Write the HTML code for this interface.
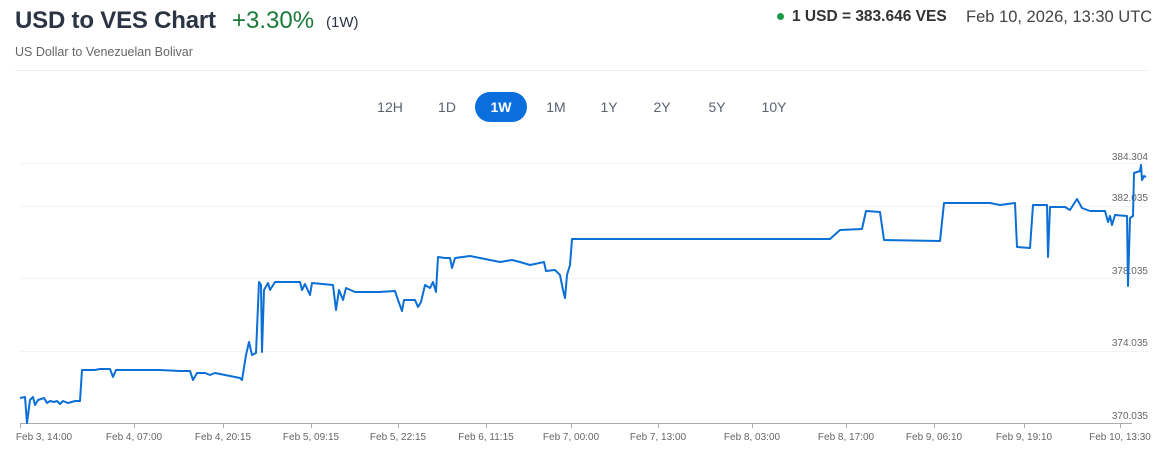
<!DOCTYPE html>
<html><head><meta charset="utf-8"><style>
body{margin:0;width:1163px;height:449px;background:#fff;font-family:"Liberation Sans",sans-serif;position:relative;overflow:hidden}
.a{position:absolute;white-space:nowrap}
.tab{position:absolute;top:92px;height:30px;line-height:30px;font-size:14px;color:#5a6270;text-align:center;width:50px}
</style></head><body>
<div class="a" style="left:15px;top:7px;font-size:24px;font-weight:bold;color:#2b3445;letter-spacing:-0.2px">USD to VES Chart</div>
<div class="a" style="left:232px;top:7px;font-size:24px;color:#1a7a3a">+3.30%</div>
<div class="a" style="left:326px;top:14px;font-size:15px;color:#2b3445">(1W)</div>
<div class="a" style="left:15px;top:45px;font-size:12.5px;color:#666">US Dollar to Venezuelan Bolivar</div>
<div class="a" style="left:777px;top:13px;width:7px;height:7px;border-radius:50%;background:#1a9a4a"></div>
<div class="a" style="left:792px;top:8px;font-size:15.5px;font-weight:bold;color:#333">1 USD = 383.646 VES</div>
<div class="a" style="left:966px;top:8px;font-size:16.5px;color:#444">Feb 10, 2026, 13:30 UTC</div>
<div class="a" style="left:15px;top:70px;width:1133px;height:1px;background:#eee"></div>
<div class="tab" style="left:365px">12H</div>
<div class="tab" style="left:422px">1D</div>
<div class="tab" style="left:475px;width:52px;background:#0a6fdc;color:#fff;border-radius:15px;font-weight:bold">1W</div>
<div class="tab" style="left:531px">1M</div>
<div class="tab" style="left:584px">1Y</div>
<div class="tab" style="left:637px">2Y</div>
<div class="tab" style="left:692px">5Y</div>
<div class="tab" style="left:749px">10Y</div>
<svg class="a" style="left:0;top:0" width="1163" height="449">
<g stroke="#f3f3f3" stroke-width="1">
<line x1="20" y1="163.5" x2="1148" y2="163.5"/><line x1="20" y1="206.5" x2="1148" y2="206.5"/>
<line x1="20" y1="278.5" x2="1148" y2="278.5"/><line x1="20" y1="351.5" x2="1148" y2="351.5"/>
</g>
<line x1="20" y1="423.5" x2="1132" y2="423.5" stroke="#aaa"/>
<g stroke="#aaa"><line x1="20.5" y1="423" x2="20.5" y2="428"/><line x1="134.5" y1="423" x2="134.5" y2="428"/><line x1="223.5" y1="423" x2="223.5" y2="428"/><line x1="311.5" y1="423" x2="311.5" y2="428"/><line x1="398.5" y1="423" x2="398.5" y2="428"/><line x1="486.5" y1="423" x2="486.5" y2="428"/><line x1="571.5" y1="423" x2="571.5" y2="428"/><line x1="658.5" y1="423" x2="658.5" y2="428"/><line x1="752.5" y1="423" x2="752.5" y2="428"/><line x1="846.5" y1="423" x2="846.5" y2="428"/><line x1="934.5" y1="423" x2="934.5" y2="428"/><line x1="1024.5" y1="423" x2="1024.5" y2="428"/><line x1="1120.5" y1="423" x2="1120.5" y2="428"/></g>
<g font-size="10" fill="#666" text-anchor="middle" font-family="Liberation Sans,sans-serif">
<text x="44" y="440">Feb 3, 14:00</text><text x="134" y="440">Feb 4, 07:00</text><text x="223" y="440">Feb 4, 20:15</text><text x="311" y="440">Feb 5, 09:15</text><text x="398" y="440">Feb 5, 22:15</text><text x="486" y="440">Feb 6, 11:15</text><text x="571" y="440">Feb 7, 00:00</text><text x="658" y="440">Feb 7, 13:00</text><text x="752" y="440">Feb 8, 03:00</text><text x="846" y="440">Feb 8, 17:00</text><text x="934" y="440">Feb 9, 06:10</text><text x="1024" y="440">Feb 9, 19:10</text><text x="1120" y="440">Feb 10, 13:30</text>
</g>
<g font-size="10" fill="#666" text-anchor="end" font-family="Liberation Sans,sans-serif">
<text x="1148" y="160">384.304</text><text x="1148" y="201">382.035</text><text x="1148" y="274">378.035</text><text x="1148" y="346">374.035</text><text x="1148" y="419">370.035</text>
</g>
<polyline fill="none" stroke="#0b6fd6" stroke-width="2" stroke-linejoin="round" points="20,398 25,397 27,423 30,400 33,397 35,405 38,400 44,398 47,403 50,401 54,402 57,401 60,404 63,401 68,403 75,401 80,401 82,370 95,370 100,369 110,369 113,377 116,370 125,370 140,370 160,370 180,371 190,371 193,380 197,373 205,373 210,375 215,373 225,375 235,377 240,378 242,380 246,355 249,342 252,355 256,353 259,282 261,285 262,352 264,290 268,283 270,290 275,282 300,282 302,290 305,284 310,295 312,283 333,285 336,310 339,290 343,300 346,288 355,292 368,292 380,292 395,291 398,300 402,311 404,300 415,300 418,307 421,302 425,285 430,288 433,282 436,292 438,257 445,258 450,258 452,268 455,258 470,256 480,258 500,262 512,260 520,262 530,265 544,262 546,271 555,270 560,275 563,290 565,298 567,275 570,265 572,239 830,239 840,230 862,229 866,211 880,212 884,240 940,241 944,203 990,203 1000,205 1015,203 1017,247 1030,248 1033,205 1047,205 1048,257 1050,207 1065,207 1070,210 1077,199 1082,208 1090,211 1105,211 1108,222 1110,216 1112,225 1115,215 1127,216 1128,286 1130,218 1133,216 1134,173 1140,171 1141,165 1142,180 1144,176 1146,177"/>
</svg>
</body></html>
